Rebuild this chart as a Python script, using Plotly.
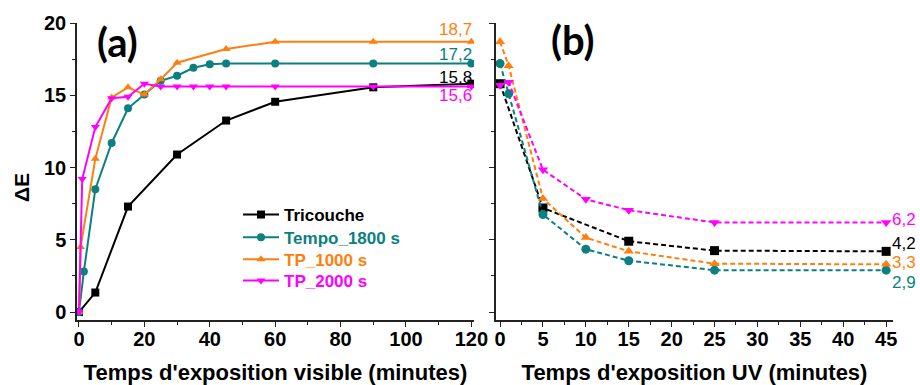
import plotly.graph_objects as go

# ---- Data: panel (a) visible exposure ----
tri_a_x = [0, 5, 15, 30, 45, 60, 90, 120]
tri_a_y = [0, 1.35, 7.3, 10.9, 13.25, 14.55, 15.55, 15.8]

tempo_a_x = [0, 1.5, 5, 10, 15, 20, 25, 30, 35, 40, 45, 60, 90, 120]
tempo_a_y = [0, 2.8, 8.5, 11.7, 14.1, 15.05, 16.0, 16.35, 16.9, 17.15, 17.2, 17.2, 17.2, 17.2]

tp1000_a_x = [0, 0.5, 5, 10, 15, 20, 25, 30, 45, 60, 90, 120]
tp1000_a_y = [0, 4.5, 10.6, 14.85, 15.55, 15.05, 16.1, 17.25, 18.2, 18.7, 18.7, 18.7]

tp2000_a_x = [0, 1, 5, 10, 15, 20, 25, 30, 35, 40, 45, 60, 90, 120]
tp2000_a_y = [0, 9.2, 12.8, 14.8, 14.9, 15.8, 15.6, 15.6, 15.6, 15.6, 15.6, 15.6, 15.6, 15.6]

# ---- Data: panel (b) UV exposure ----
tri_b_x = [0, 5, 15, 25, 45]
tri_b_y = [15.8, 7.2, 4.9, 4.25, 4.2]

tempo_b_x = [0, 1, 5, 10, 15, 25, 45]
tempo_b_y = [17.2, 15.1, 6.75, 4.35, 3.55, 2.9, 2.9]

tp1000_b_x = [0, 1, 5, 10, 15, 25, 45]
tp1000_b_y = [18.7, 17.05, 7.85, 5.15, 4.2, 3.35, 3.3]

tp2000_b_x = [0, 1, 5, 10, 15, 25, 45]
tp2000_b_y = [15.7, 15.9, 9.85, 7.8, 7.05, 6.2, 6.2]

names = ["Tricouche", "Tempo_1800 s", "TP_1000 s", "TP_2000 s"]
colors = ["#000000", "#0a8080", "#ff7f0e", "#ff00ff"]
symbols = ["square", "circle", "triangle-up", "triangle-down"]

end_a_labels = ["15,8", "17,2", "18,7", "15,6"]
end_b_labels = ["4,2", "2,9", "3,3", "6,2"]

data_a = [(tri_a_x, tri_a_y), (tempo_a_x, tempo_a_y), (tp1000_a_x, tp1000_a_y), (tp2000_a_x, tp2000_a_y)]
data_b = [(tri_b_x, tri_b_y), (tempo_b_x, tempo_b_y), (tp1000_b_x, tp1000_b_y), (tp2000_b_x, tp2000_b_y)]

FONT = "Liberation Sans, Arial, sans-serif"
W, H = 920, 385
ML, MR, MT, MB = 77, 27, 23, 65
PW, PH = W - ML - MR, H - MT - MB


def px(xp):
    return (xp - ML) / PW


def py(yp):
    return 1 - (yp - MT) / PH


legend_keys = ["legend", "legend2", "legend3", "legend4"]

fig = go.Figure()
for i, (xs, ys) in enumerate(data_a):
    fig.add_trace(go.Scatter(
        x=xs, y=ys, mode="lines+markers", xaxis="x", yaxis="y",
        name=f"<span style='color:{colors[i]}'><b>{names[i]}</b></span>",
        line=dict(color=colors[i], width=2),
        marker=dict(symbol=symbols[i], size=8, color=colors[i]),
        showlegend=True, legend=legend_keys[i],
    ))
for i, (xs, ys) in enumerate(data_b):
    fig.add_trace(go.Scatter(
        x=xs, y=ys, mode="lines+markers", xaxis="x2", yaxis="y2",
        line=dict(color=colors[i], width=2, dash="5px,3px"),
        marker=dict(symbol=symbols[i], size=9, color=colors[i]),
        showlegend=False,
    ))

tickfont = dict(family=FONT, size=20, color="#000", weight="bold")
titlefont = dict(family=FONT, size=22, color="#000", weight="bold")

common_axis = dict(showline=True, linecolor="#222", linewidth=1.5, ticks="outside",
                   ticklen=5, tickwidth=1.2, tickcolor="#222", showgrid=False,
                   zeroline=False, tickfont=tickfont, mirror=False, automargin=False)

leg_rows = [215, 237.7, 259.7, 281]
legends = {}
for i, k in enumerate(legend_keys):
    legends[k] = dict(x=px(238), y=py(leg_rows[i]), xanchor="left", yanchor="middle",
                      font=dict(family=FONT, size=17, color="#000"),
                      bgcolor="rgba(0,0,0,0)", itemwidth=36)

fig.update_layout(
    width=W, height=H,
    margin=dict(l=ML, r=MR, t=MT, b=MB, autoexpand=False),
    plot_bgcolor="white", paper_bgcolor="white",
    xaxis=dict(domain=[0, 0.4865], range=[-0.6, 120.8], dtick=20, tick0=0,
               minor=dict(dtick=10, ticks="outside", ticklen=3, tickcolor="#222"),
               ticklabelstandoff=-5,
               title=dict(text="Temps d'exposition visible (minutes)", font=titlefont, standoff=16),
               anchor="y", **common_axis),
    yaxis=dict(range=[-0.55, 20], dtick=5, tick0=0,
               minor=dict(dtick=2.5, ticks="outside", ticklen=3, tickcolor="#222"),
               anchor="x", **common_axis),
    xaxis2=dict(domain=[0.5135, 1], range=[-0.47, 45.8], dtick=5, tick0=0,
                minor=dict(dtick=2.5, ticks="outside", ticklen=3, tickcolor="#222"),
                ticklabelstandoff=-5,
                title=dict(text="Temps d'exposition UV (minutes)", font=titlefont, standoff=16),
                anchor="y2", **common_axis),
    yaxis2=dict(range=[-0.55, 20], dtick=5, tick0=0, showticklabels=False,
                minor=dict(dtick=2.5, ticks="outside", ticklen=3, tickcolor="#222"),
                anchor="x2", **common_axis),
    showlegend=True,
    **legends,
)

# y-axis title
fig.add_annotation(text="<b>ΔE</b>", x=px(21), y=py(187), xref="paper", yref="paper",
                   xanchor="center", yanchor="middle", textangle=-90, showarrow=False,
                   font=dict(family=FONT, size=21, color="#000"))

# panel labels
fig.add_annotation(text="<b>(a)</b>", x=px(117), y=py(42), xref="paper", yref="paper",
                   xanchor="center", yanchor="middle", showarrow=False,
                   font=dict(family="Lato, sans-serif", size=40, color="#000"))
fig.add_annotation(text="<b>(b)</b>", x=px(573), y=py(40), xref="paper", yref="paper",
                   xanchor="center", yanchor="middle", showarrow=False,
                   font=dict(family="Lato, sans-serif", size=40, color="#000"))

# end labels (a)
shifts_a = [6, 9, 12, -9]
for i, (xs, ys) in enumerate(data_a):
    fig.add_annotation(text=end_a_labels[i], x=xs[-1], y=ys[-1], xref="x", yref="y",
                       xanchor="right", yanchor="middle", yshift=shifts_a[i], xshift=3,
                       showarrow=False, font=dict(family=FONT, size=17, color=colors[i]))
# end labels (b)
shifts_b = [8, -12, 2, 3]
for i, (xs, ys) in enumerate(data_b):
    fig.add_annotation(text=end_b_labels[i], x=xs[-1], y=ys[-1], xref="x2", yref="y2",
                       xanchor="left", yanchor="middle", yshift=shifts_b[i], xshift=4,
                       showarrow=False, font=dict(family=FONT, size=17, color=colors[i]))

fig.write_html("out.html", config={"displayModeBar": False},
               post_script="document.body.style.margin='0px';")
